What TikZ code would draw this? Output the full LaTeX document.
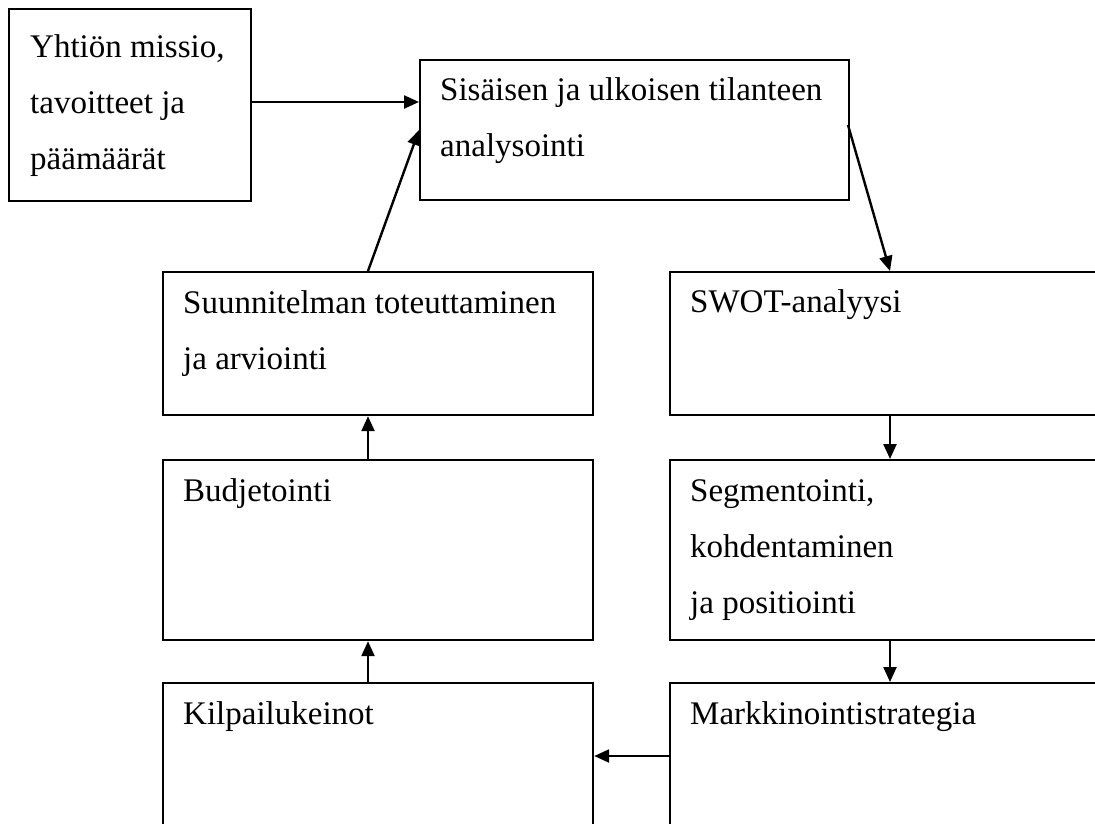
\documentclass[tikz,border=0pt]{standalone}
\usepackage{fontspec}
\setmainfont{Liberation Serif}
\usetikzlibrary{arrows.meta,calc}
\tikzset{
  box/.style={draw=black, line width=2.2pt, rectangle, inner sep=0pt, anchor=north west},
  txt/.style={anchor=base west, inner sep=0pt, font=\fontsize{33}{56}\selectfont},
  arr/.style={draw=black, line width=2.4pt, -{Triangle[length=15pt,width=13pt]}}
}
\newcommand{\boxtext}[1]{\parbox[t]{500pt}{\raggedright #1}}
\begin{document}
\begin{tikzpicture}[x=1pt,y=-1pt]
\useasboundingbox (0,0) rectangle (1095,823);
\clip (0,0) rectangle (1095,823);
% boxes
\node[box, minimum width=242pt, minimum height=192pt] (b1) at (8,8) {};
\node[box, minimum width=429pt, minimum height=140pt] (b2) at (419,59) {};
\node[box, minimum width=430pt, minimum height=143pt] (b3) at (162,271) {};
\node[box, minimum width=441pt, minimum height=143pt] (b4) at (669,271) {};
\node[box, minimum width=430pt, minimum height=180pt] (b5) at (162,459) {};
\node[box, minimum width=441pt, minimum height=180pt] (b6) at (669,459) {};
\node[box, minimum width=430pt, minimum height=170pt] (b7) at (162,682) {};
\node[box, minimum width=441pt, minimum height=170pt] (b8) at (669,682) {};
% texts
\node[txt] (t1) at (30,57) {\boxtext{Yhtiön missio,\\tavoitteet ja\\päämäärät}};
\node[txt] (t2) at (440,100) {\boxtext{Sisäisen ja ulkoisen tilanteen\\analysointi}};
\node[txt] (t3) at (183,313) {\boxtext{Suunnitelman toteuttaminen\\ja arviointi}};
\node[txt] (t4) at (690,312) {\boxtext{SWOT-analyysi}};
\node[txt] (t5) at (183,501) {\boxtext{Budjetointi}};
\node[txt] (t6) at (690,501) {\boxtext{Segmentointi,\\kohdentaminen\\ja positiointi}};
\node[txt] (t7) at (183,724) {\boxtext{Kilpailukeinot}};
\node[txt] (t8) at (690,724) {\boxtext{Markkinointistrategia}};
% helper coordinates
\coordinate (lx) at (368,0);
\coordinate (rx) at (890,0);
\coordinate (hy) at (0,102);
\coordinate (my) at (0,756);
\coordinate (b2out) at (848,125);
% connectors
\draw[arr] (b1.east |- hy) -- (b2.west |- hy);
\draw[arr] (b3.north -| lx) -- (b2.west);
\draw[arr] (b2out) -- (b4.north -| rx);
\draw[arr] (b4.south -| rx) -- (b6.north -| rx);
\draw[arr] (b6.south -| rx) -- (b8.north -| rx);
\draw[arr] (b8.west |- my) -- (b7.east |- my);
\draw[arr] (b7.north -| lx) -- (b5.south -| lx);
\draw[arr] (b5.north -| lx) -- (b3.south -| lx);
\end{tikzpicture}
\end{document}
